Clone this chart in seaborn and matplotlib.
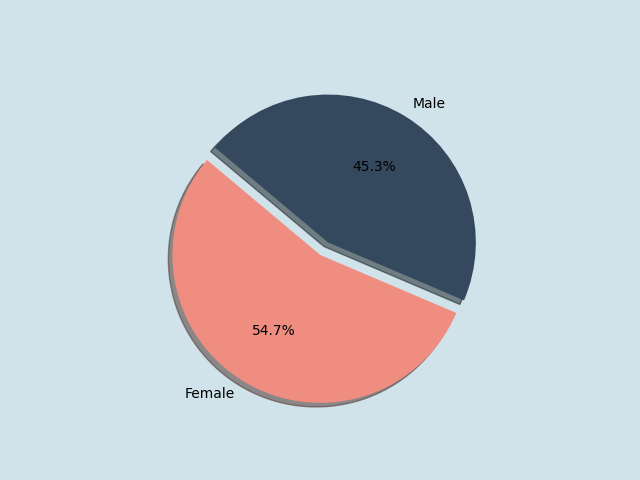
import matplotlib
matplotlib.use("Agg")
import matplotlib.pyplot as plt
import seaborn as sns

# données du graphique
labels = ["Female", "Male"]
values = [54.7, 45.3]
colors = sns.color_palette(["#ef8e80", "#34495e"])
explode = [0.1, 0]

plt.rcParams['font.family'] = ['DejaVu Sans']

fig = plt.figure(figsize=(6.4, 4.8), dpi=100)
fig.patch.set_facecolor("#d0e3ea")
ax = plt.gca()

ax.pie(values, labels=labels, colors=colors, explode=explode,
       autopct='%1.1f%%', shadow=True, startangle=140)

plt.savefig("out.png", dpi=100, facecolor=fig.get_facecolor())
